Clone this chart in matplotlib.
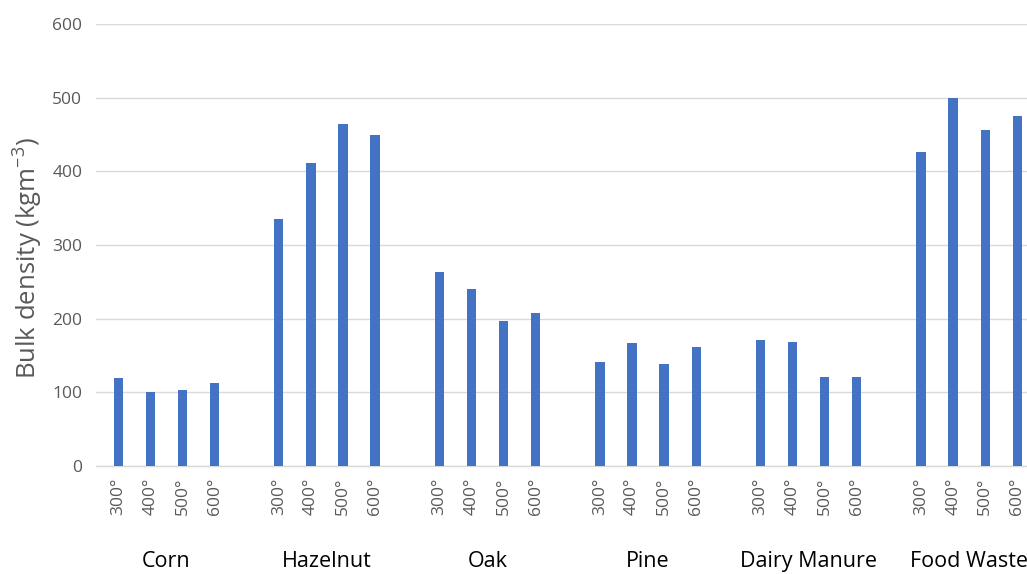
import numpy as np
import matplotlib.pyplot as plt
import matplotlib.transforms as mtransforms

plt.rcParams['font.family'] = ['Open Sans', 'DejaVu Sans']
plt.rcParams['mathtext.fontset'] = 'custom'
plt.rcParams['mathtext.rm'] = 'Open Sans'

# feedstocks and pyrolysis temperatures
groups = ["Corn", "Hazelnut", "Oak", "Pine", "Dairy Manure", "Food Waste"]
temps = ["300°", "400°", "500°", "600°"]

# bulk density (kg m^-3), one list per feedstock, order 300..600
corn = [120, 101, 103, 113]
hazelnut = [335, 411, 464, 449]
oak = [263, 240, 197, 208]
pine = [141, 167, 138, 161]
dairy_manure = [171, 168, 121, 121]
food_waste = [427, 500, 456, 475]

values = [corn, hazelnut, oak, pine, dairy_manure, food_waste]

fig = plt.figure(figsize=(10.27, 5.74), dpi=100)
ax = fig.add_axes([0.0935, 0.188, 0.9065, 0.770])

# each group takes 4 bar slots + 1 empty slot
xpos = []
xlabels = []
for g, vals in enumerate(values):
    for j, v in enumerate(vals):
        xpos.append(g * 5 + j)
        xlabels.append(temps[j])
heights = [v for vals in values for v in vals]

ax.bar(xpos, heights, width=0.29, color="#4472C4", zorder=3)

ax.set_ylim(0, 600)
ax.set_yticks(np.arange(0, 601, 100))
ax.set_xlim(-0.69, 28.3)
ax.set_xticks(xpos)
ax.set_xticklabels(xlabels, rotation=90, va="top", ha="center")

ax.grid(axis="y", color="#D9D9D9", linewidth=1.0, zorder=0)
for s in ["top", "right", "left"]:
    ax.spines[s].set_visible(False)
ax.spines["bottom"].set_color("#D9D9D9")
ax.spines["bottom"].set_linewidth(1.0)

ax.tick_params(axis="both", length=0, colors="#595959", labelsize=12.5)
ax.tick_params(axis="x", pad=8)
ax.tick_params(axis="y", pad=10)

ax.set_ylabel("Bulk density (kgm$^{\\mathregular{-3}}$)", fontsize=18.5, color="#595959")
ax.yaxis.set_label_coords(-0.056, 0.47)

# feedstock names under each group of bars
trans = mtransforms.blended_transform_factory(ax.transData, ax.transAxes)
for g, name in enumerate(groups):
    ax.text(g * 5 + 1.5, -0.228, name, transform=trans, ha="center", va="baseline",
            fontsize=15.5, color="#000000")

plt.savefig("out.png", dpi=100)
